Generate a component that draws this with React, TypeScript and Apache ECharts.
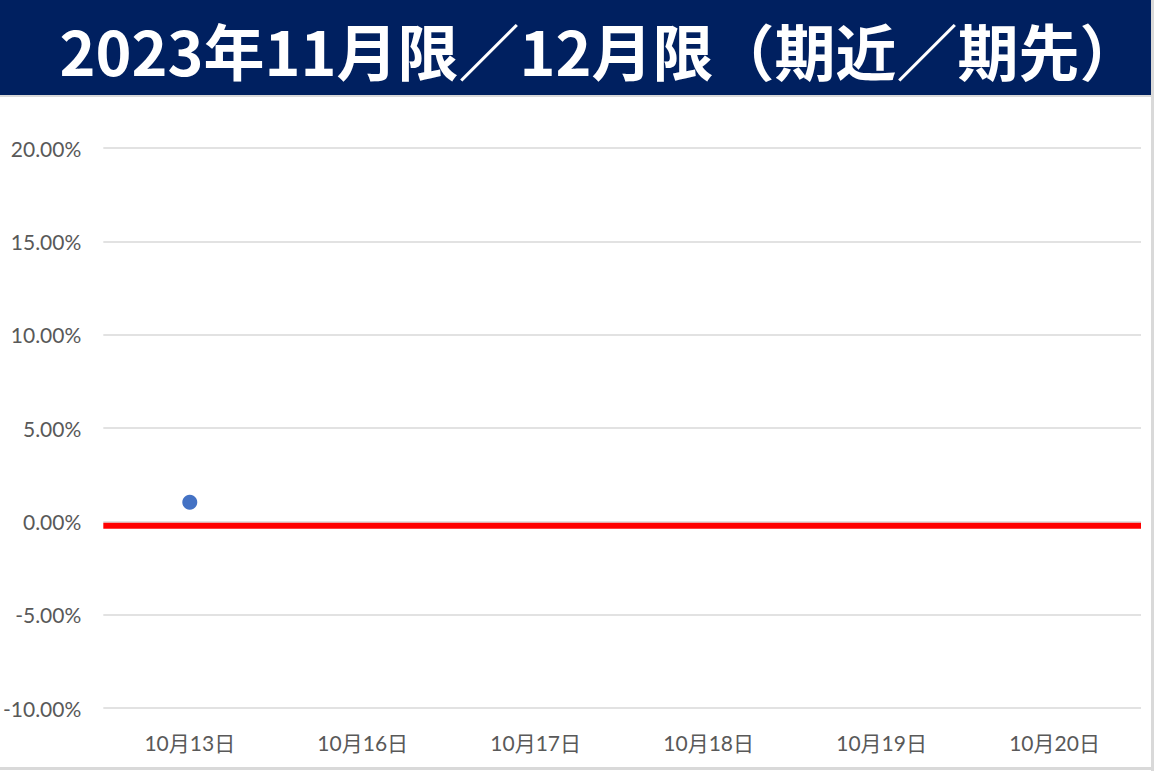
import React, { useEffect, useRef } from "react";
import * as echarts from "echarts";

const TITLE = "2023年11月限／12月限（期近／期先）";
const categories = ["10月13日", "10月16日", "10月17日", "10月18日", "10月19日", "10月20日"];
const spreadValues: (number | null)[] = [0.0102, null, null, null, null, null];
const referenceLevel = -0.0023;
const referenceSpan = [0, 1];
const yTicks = { min: -0.1, max: 0.2, interval: 0.05 };

export default function App() {
  const ref = useRef<HTMLDivElement>(null);
  useEffect(() => {
    document.body.style.margin = "0";
    const chart = echarts.init(ref.current!, null, { renderer: "svg" });
    chart.setOption({
      animation: false,
      backgroundColor: "#ffffff",
      graphic: [
        { type: "rect", left: 0, top: 0, shape: { width: 1152, height: 95 }, style: { fill: "#002060" }, z: 0 },
        { type: "rect", left: 0, top: 95, shape: { width: 1152, height: 2 }, style: { fill: "#d9d9d9" }, z: 0 },
        { type: "rect", left: 1151, top: 0, shape: { width: 3, height: 771 }, style: { fill: "#d9d9d9" }, z: 0 },
        { type: "rect", left: 0, top: 767, shape: { width: 1154, height: 3 }, style: { fill: "#d9d9d9" }, z: 0 },
        {
          type: "text",
          x: 600,
          y: 49,
          style: {
            text: TITLE,
            fill: "#ffffff",
            font: 'bold 61px "Noto Sans CJK JP", sans-serif',
            align: "center",
            verticalAlign: "middle",
          },
          z: 10,
        },
      ],
      grid: { left: 101, right: 14, top: 148, bottom: 63, containLabel: false },
      xAxis: [
        {
          type: "category",
          data: categories,
          boundaryGap: true,
          axisLine: { show: false },
          axisTick: { show: false },
          axisLabel: {
            color: "#595959",
            fontSize: 21,
            fontFamily: 'Lato, "Noto Sans CJK JP", sans-serif',
            margin: 24,
          },
        },
        {
          type: "value",
          min: referenceSpan[0],
          max: referenceSpan[1],
          show: false,
          splitLine: { show: false },
        },
      ],
      yAxis: {
        type: "value",
        min: yTicks.min,
        max: yTicks.max,
        interval: yTicks.interval,
        axisLine: { show: false },
        axisTick: { show: false },
        splitLine: { lineStyle: { color: "#d9d9d9", width: 1.5 } },
        axisLabel: {
          color: "#595959",
          fontSize: 21,
          fontFamily: 'Lato, "Noto Sans", sans-serif',
          margin: 22,
          formatter: (v: number) => (v * 100).toFixed(2) + "%",
        },
      },
      series: [
        {
          name: "基準",
          type: "line",
          xAxisIndex: 1,
          data: referenceSpan.map((x) => [x, referenceLevel]),
          symbol: "none",
          lineStyle: { color: "#ff0000", width: 6 },
          z: 1,
        },
        {
          name: "期近／期先",
          type: "scatter",
          xAxisIndex: 0,
          data: spreadValues,
          symbol: "circle",
          symbolSize: 15,
          itemStyle: { color: "#4472c4", opacity: 1 },
          z: 3,
        },
      ],
    });
    return () => chart.dispose();
  }, []);
  return (
    <div
      ref={ref}
      style={{ position: "absolute", left: 0, top: 0, width: 1155, height: 771 }}
    />
  );
}
